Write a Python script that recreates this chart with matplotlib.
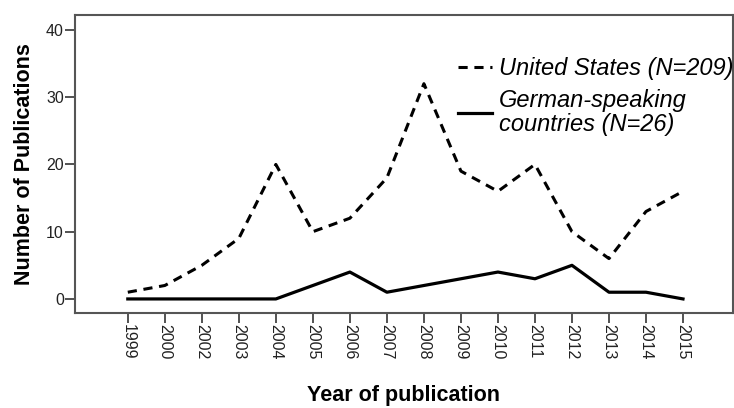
import matplotlib
matplotlib.use("Agg")
import matplotlib.pyplot as plt

years = ["1999", "2000", "2002", "2003", "2004", "2005", "2006", "2007", "2008",
         "2009", "2010", "2011", "2012", "2013", "2014", "2015"]
us = [1, 2, 5, 9, 20, 10, 12, 18, 32, 19, 16, 20, 10, 6, 13, 16]
german = [0, 0, 0, 0, 0, 2, 4, 1, 2, 3, 4, 3, 5, 1, 1, 0]
yticks = [0, 10, 20, 30, 40]

plt.rcParams['font.family'] = ['Liberation Sans', 'DejaVu Sans']

fig = plt.figure(figsize=(7.34, 4.08), dpi=100)
ax = fig.add_axes([0.102, 0.233, 0.8966, 0.730])

x = list(range(len(years)))
ax.plot(x, us, color='black', linestyle=(0, (3.0, 2.2)), linewidth=2.2,
        label='United States (N=209)')
ax.plot(x, german, color='black', linestyle='-', linewidth=2.3,
        label='German-speaking\ncountries (N=26)')

ax.set_xlim(-1.43, 16.35)
ax.set_ylim(-2.08, 42.2)
ax.set_xticks(x)
ax.set_xticklabels(years, rotation=-90, fontsize=11.5, color='#222222')
ax.set_yticks(yticks)
ax.set_yticklabels([str(v) for v in yticks], fontsize=11.5, color='#222222')
ax.tick_params(direction='out', length=7, width=1.3, color='#444444', pad=1)

for s in ax.spines.values():
    s.set_color('#555555')
    s.set_linewidth(1.5)

ax.set_ylabel('Number of Publications', fontsize=15.5, fontweight='bold', labelpad=8)
ax.set_xlabel('Year of publication', fontsize=15.5, fontweight='bold', labelpad=18.5)

leg = ax.legend(loc='upper left', bbox_to_anchor=(0.582, 0.86), frameon=False,
                prop={'style': 'italic', 'size': 17}, handlelength=1.45,
                handletextpad=0.3, labelspacing=0.4, borderaxespad=0,
                borderpad=0)
for t in leg.get_texts():
    t.set_linespacing(1.03)

fig.savefig('out.png', dpi=100)
